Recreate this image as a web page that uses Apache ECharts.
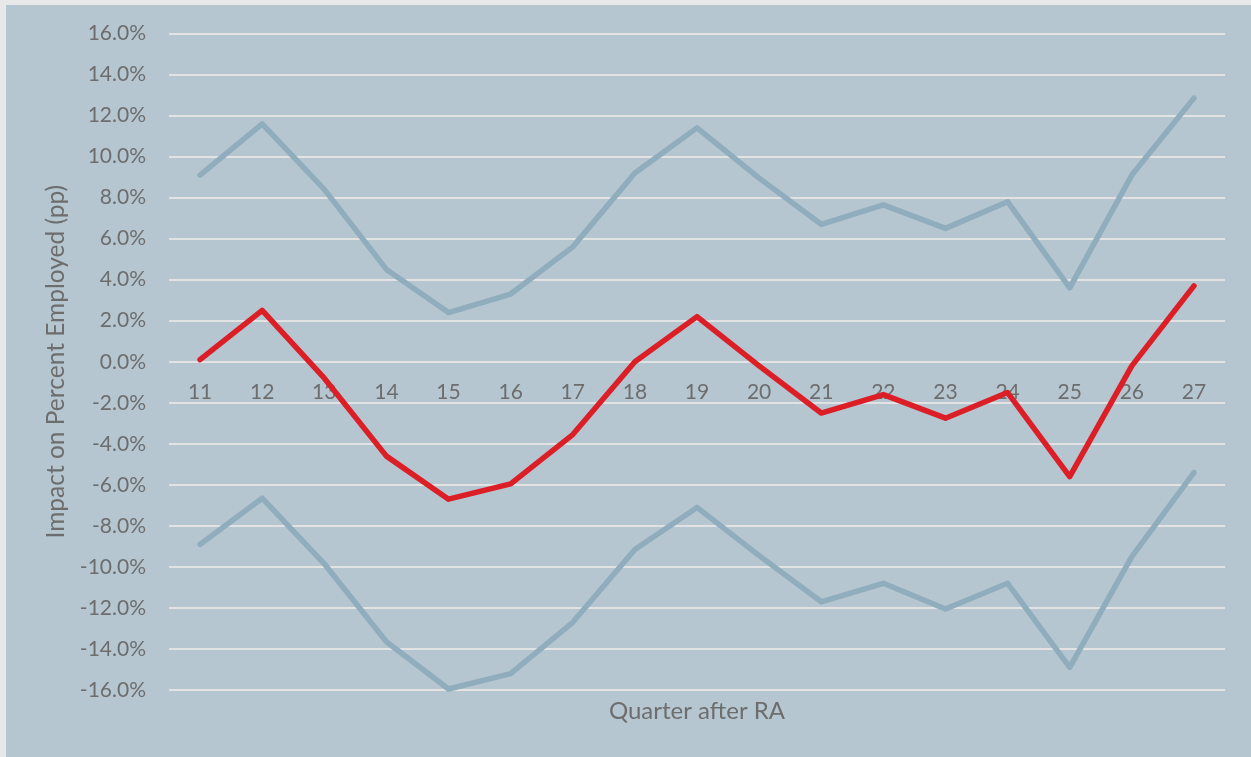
<!DOCTYPE html>
<html>
<head>
<meta charset="utf-8">
<script src="https://cdn.jsdelivr.net/npm/echarts@6/dist/echarts.min.js"></script>
<style>
html,body{margin:0;padding:0;background:#e8e8e8;width:1251px;height:757px;overflow:hidden;}
#chart{position:absolute;left:6px;top:5px;width:1245px;height:752px;}
</style>
</head>
<body>
<div id="chart"></div>
<script>
const quarters = ['11','12','13','14','15','16','17','18','19','20','21','22','23','24','25','26','27'];
const upperCI = [9.1, 11.6, 8.4, 4.5, 2.4, 3.3, 5.6, 9.2, 11.4, 8.95, 6.7, 7.65, 6.5, 7.8, 3.6, 9.1, 12.85];
const estimate = [0.1, 2.5, -0.8, -4.6, -6.7, -5.95, -3.55, 0.0, 2.2, -0.2, -2.5, -1.6, -2.75, -1.5, -5.6, -0.2, 3.7];
const lowerCI = [-8.9, -6.65, -9.85, -13.65, -15.95, -15.2, -12.7, -9.15, -7.1, -9.45, -11.7, -10.8, -12.05, -10.8, -14.9, -9.5, -5.4];
const yTicks = {min: -16, max: 16, interval: 2};

const W = 1245, H = 752;
const G = {left: 163, right: 26, top: 28.5, bottom: 67};
const plotH = H - G.top - G.bottom;
const zeroOffset = -plotH * (0 - yTicks.min) / (yTicks.max - yTicks.min);

const chart = echarts.init(document.getElementById('chart'));
const txt = '#6d6d6d';
chart.setOption({
  backgroundColor: '#b5c6d0',
  animation: false,
  grid: G,
  xAxis: {
    type: 'category',
    data: quarters,
    boundaryGap: true,
    position: 'bottom',
    offset: zeroOffset,
    axisLine: {show: false, onZero: false},
    axisTick: {show: false},
    axisLabel: {color: txt, fontFamily: 'Lato', fontSize: 21, margin: 20},
    splitLine: {show: false}
  },
  yAxis: {
    type: 'value',
    min: yTicks.min, max: yTicks.max, interval: yTicks.interval,
    name: 'Impact on Percent Employed (pp)',
    nameLocation: 'middle',
    nameGap: 100,
    nameTextStyle: {color: txt, fontFamily: 'Lato', fontSize: 24.5},
    axisLine: {show: false},
    axisTick: {show: false},
    axisLabel: {color: txt, fontFamily: 'Lato', fontSize: 21, margin: 23,
      formatter: v => v.toFixed(1) + '%'},
    splitLine: {lineStyle: {color: '#e2e2e2', width: 2}}
  },
  graphic: [{
    type: 'text',
    x: G.left + (W - G.left - G.right) / 2,
    y: 706.5,
    style: {text: 'Quarter after RA', fill: txt, font: '24px Lato',
      textAlign: 'center', textVerticalAlign: 'middle'}
  }],
  series: [
    {name: 'Upper', type: 'line', data: upperCI, symbol: 'none',
     lineStyle: {color: '#8fadbd', width: 5.5, join: 'round', cap: 'round'}, z: 2},
    {name: 'Lower', type: 'line', data: lowerCI, symbol: 'none',
     lineStyle: {color: '#8fadbd', width: 5.5, join: 'round', cap: 'round'}, z: 2},
    {name: 'Estimate', type: 'line', data: estimate, symbol: 'none',
     lineStyle: {color: '#dc1f26', width: 5.5, join: 'round', cap: 'round'}, z: 3}
  ]
});
</script>
</body>
</html>
